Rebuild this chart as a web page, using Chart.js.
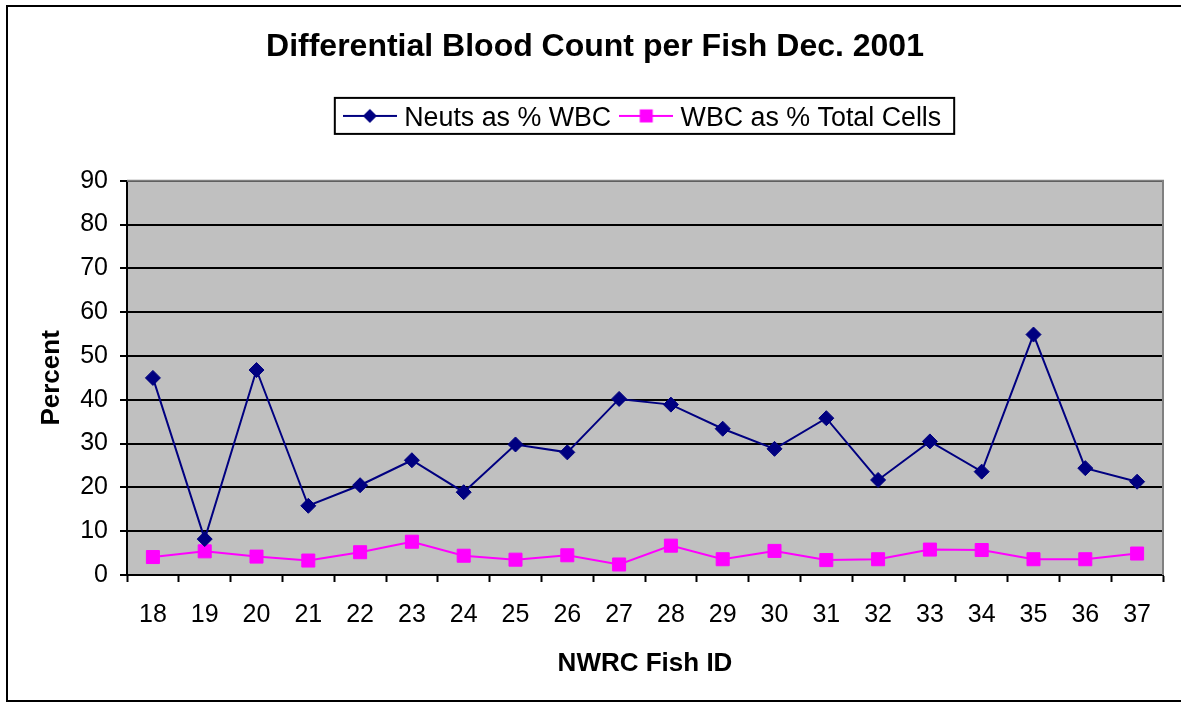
<!DOCTYPE html>
<html>
<head>
<meta charset="utf-8">
<script src="https://cdn.jsdelivr.net/npm/chart.js@4.4.1/dist/chart.umd.min.js"></script>
<style>
  html, body { margin: 0; padding: 0; background: #ffffff; }
  canvas { display: block; }
</style>
</head>
<body>
<canvas id="c" width="1181" height="703"></canvas>
<script>
// ---- data ----
const fishIds = ['18','19','20','21','22','23','24','25','26','27','28','29','30','31','32','33','34','35','36','37'];
const neutsPctWbc = [45.0, 8.2, 46.8, 15.8, 20.5, 26.2, 18.9, 29.8, 28.0, 40.2, 38.9, 33.4, 28.8, 35.8, 21.7, 30.5, 23.6, 54.9, 24.4, 21.3];
const wbcPctTotal = [4.1, 5.4, 4.2, 3.3, 5.2, 7.6, 4.4, 3.5, 4.5, 2.4, 6.7, 3.6, 5.5, 3.4, 3.6, 5.8, 5.7, 3.6, 3.6, 4.9];
const seriesNames = ['Neuts as % WBC', 'WBC as % Total Cells'];
const yTicks = [0, 10, 20, 30, 40, 50, 60, 70, 80, 90];

const FONT = "'Liberation Sans', Arial, Helvetica, sans-serif";
const NAVY = '#000080';
const MAGENTA = '#FF00FF';

function makeIcon(color, shape) {
  const c = document.createElement('canvas');
  c.width = 54; c.height = 22;
  const g = c.getContext('2d');
  g.strokeStyle = color; g.lineWidth = 2;
  g.beginPath(); g.moveTo(0, 8); g.lineTo(54, 8); g.stroke();
  g.fillStyle = color;
  if (shape === 'diamond') {
    g.beginPath(); g.moveTo(20, 8); g.lineTo(27, 1); g.lineTo(34, 8); g.lineTo(27, 15); g.closePath(); g.fill();
  } else {
    g.fillRect(20.5, 1.5, 13, 13);
  }
  return c;
}
const legendIcons = [makeIcon(NAVY, 'diamond'), makeIcon(MAGENTA, 'square')];

const decorPlugin = {
  id: 'decor',
  beforeDraw(chart) {
    const {ctx, chartArea: a} = chart;
    ctx.save();
    ctx.fillStyle = '#C0C0C0';
    ctx.fillRect(a.left, a.top, a.right - a.left, a.bottom - a.top);
    ctx.restore();
  },
  beforeDatasetsDraw(chart) {
    const {ctx, chartArea: a} = chart;
    ctx.save();
    ctx.strokeStyle = '#808080';
    ctx.lineWidth = 2;
    ctx.beginPath();
    ctx.moveTo(a.left, a.top);
    ctx.lineTo(a.right, a.top);
    ctx.lineTo(a.right, a.bottom);
    ctx.stroke();
    ctx.restore();
  },
  afterDraw(chart) {
    const {ctx} = chart;
    ctx.save();
    // legend frame
    const hb = chart.legend.legendHitBoxes;
    if (hb && hb.length) {
      const first = hb[0], last = hb[hb.length - 1];
      const cy = first.top + first.height / 2;
      const l = first.left - 14, r = last.left + last.width + 13;
      ctx.strokeStyle = '#000';
      ctx.lineWidth = 2;
      ctx.strokeRect(l, cy - 21, r - l, 36);
    }
    // outer frame
    ctx.strokeStyle = '#000';
    ctx.lineWidth = 2;
    ctx.strokeRect(7, 6, 1180, 695);
    ctx.restore();
  }
};

new Chart(document.getElementById('c'), {
  type: 'line',
  data: {
    labels: fishIds,
    datasets: [
      {
        label: seriesNames[0],
        data: neutsPctWbc,
        borderColor: NAVY,
        backgroundColor: NAVY,
        borderWidth: 2,
        pointStyle: 'rectRot',
        pointRadius: 7.5,
        pointBorderWidth: 1,
        pointBackgroundColor: NAVY,
        pointBorderColor: NAVY,
        tension: 0,
        fill: false
      },
      {
        label: seriesNames[1],
        data: wbcPctTotal,
        borderColor: MAGENTA,
        backgroundColor: MAGENTA,
        borderWidth: 2,
        pointStyle: 'rect',
        pointRadius: 9.2,
        pointBorderWidth: 1,
        pointBackgroundColor: MAGENTA,
        pointBorderColor: MAGENTA,
        tension: 0,
        fill: false
      }
    ]
  },
  options: {
    responsive: false,
    devicePixelRatio: 1,
    animation: false,
    events: [],
    layout: { padding: { left: 27, right: 18, top: 0, bottom: 20.4 } },
    plugins: {
      title: {
        display: true,
        text: 'Differential Blood Count per Fish Dec. 2001',
        color: '#000',
        font: { family: FONT, size: 32, weight: 'bold', lineHeight: 1.2 },
        padding: { top: 28.1, bottom: 25.0 }
      },
      subtitle: {
        display: true,
        text: '',
        weight: 500,
        font: { family: FONT, size: 10, lineHeight: 1 },
        padding: { top: 0, bottom: 28.5 }
      },
      legend: {
        display: true,
        position: 'top',
        fullSize: false,
        labels: {
          color: '#000',
          font: { family: FONT, size: 26.8 },
          usePointStyle: true,
          pointStyleWidth: 42,
          padding: 14,
          generateLabels(chart) {
            const items = Chart.defaults.plugins.legend.labels.generateLabels(chart);
            items.forEach((it, i) => { it.pointStyle = legendIcons[i]; it.lineWidth = 0; });
            return items;
          }
        }
      },
      tooltip: { enabled: false }
    },
    scales: {
      x: {
        type: 'category',
        offset: true,
        grid: {
          offset: true,
          drawOnChartArea: false,
          drawTicks: true,
          tickLength: 7,
          tickColor: '#000',
          tickWidth: 2
        },
        border: { display: true, color: '#000', width: 2 },
        ticks: {
          color: '#000',
          font: { family: FONT, size: 25 },
          padding: 18,
          maxRotation: 0,
          autoSkip: false
        },
        title: {
          display: true,
          text: 'NWRC Fish ID',
          color: '#000',
          font: { family: FONT, size: 26, weight: 'bold', lineHeight: 1.2 },
          padding: { top: 0, bottom: 3.4 }
        }
      },
      y: {
        min: yTicks[0],
        max: yTicks[yTicks.length - 1],
        afterBuildTicks(scale) { scale.ticks = yTicks.map(v => ({ value: v })); },
        grid: {
          drawOnChartArea: true,
          drawTicks: true,
          tickLength: 7,
          color: '#000',
          lineWidth: 2,
          tickColor: '#000',
          tickWidth: 2
        },
        border: { display: true, color: '#000', width: 2 },
        ticks: {
          color: '#000',
          font: { family: FONT, size: 25 },
          padding: 12
        },
        title: {
          display: true,
          text: 'Percent',
          color: '#000',
          font: { family: FONT, size: 26, weight: 'bold', lineHeight: 1.2 },
          padding: { top: 9.4, bottom: 0.6 }
        }
      }
    }
  },
  plugins: [decorPlugin]
});
</script>
</body>
</html>
